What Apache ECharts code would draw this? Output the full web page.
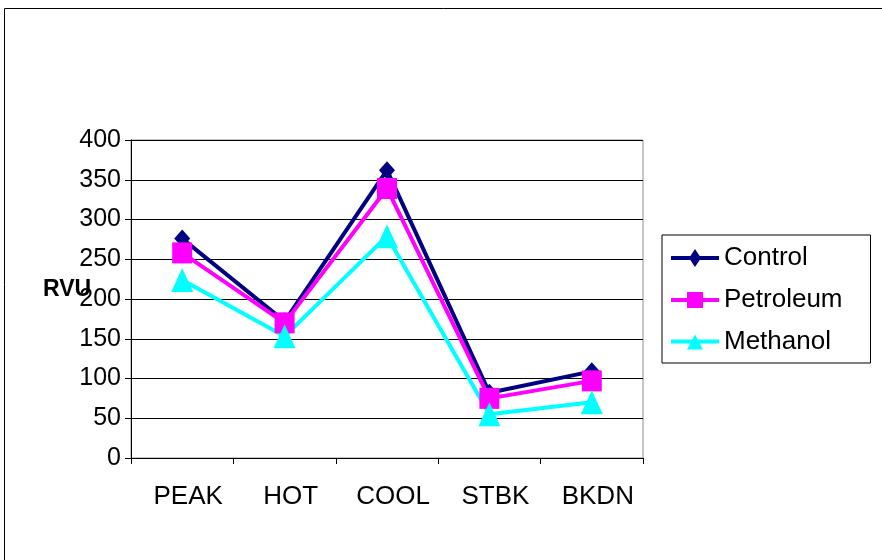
<!DOCTYPE html>
<html>
<head>
<meta charset="utf-8">
<style>
  html, body { margin: 0; padding: 0; background: #fff; }
  #chart { width: 882px; height: 560px; }
</style>
<script src="https://cdn.jsdelivr.net/npm/echarts@6/dist/echarts.min.js"></script>
</head>
<body>
<div id="chart"></div>
<script>
// RVU readings per test phase
const categories = ['PEAK', 'HOT', 'COOL', 'STBK', 'BKDN'];
const controlValues = [276, 172, 362, 82, 109];
const petroleumValues = [258, 170, 339, 75, 97];
const methanolValues = [224, 153, 279, 55, 70];
const yTicks = { min: 0, max: 400, step: 50 };

const FONT = 'Liberation Sans, Arial, sans-serif';

// Legend swatches: a thick line with the series marker in the middle
const LINE_BAR = 'M0,7 H48 V11 H0 Z ';
const legendIcons = {
  Control: 'path://' + LINE_BAR + 'M24,0 L30,9 L24,18 L18,9 Z',
  Petroleum: 'path://' + LINE_BAR + 'M16,1 H32 V17 H16 Z',
  Methanol: 'path://' + LINE_BAR + 'M24,2 L32,17 L16,17 Z'
};

const chart = echarts.init(document.getElementById('chart'), null, { renderer: 'canvas' });

function lineSeries(name, data, color, symbol, size) {
  return {
    name: name,
    type: 'line',
    data: data,
    symbol: symbol,
    symbolSize: size,
    showSymbol: true,
    lineStyle: { color: color, width: 4 },
    itemStyle: { color: color, borderWidth: 0 },
    emphasis: { disabled: true },
    animation: false
  };
}

chart.setOption({
  backgroundColor: '#ffffff',
  animation: false,
  textStyle: { fontFamily: FONT, color: '#000' },
  graphic: [
    {
      type: 'rect',
      shape: { x: 4.5, y: 8.5, width: 900, height: 600 },
      style: { fill: 'none', stroke: '#000', lineWidth: 1 },
      z: 0
    },
    {
      type: 'text',
      left: 43,
      top: 278,
      style: { text: 'RVU', font: 'bold 23px ' + FONT, fill: '#000' },
      z: 1
    }
  ],
  grid: {
    left: 131,
    right: 239,
    top: 140,
    bottom: 102,
    show: true,
    borderColor: '#8c8c8c',
    borderWidth: 1,
    backgroundColor: 'transparent'
  },
  legend: {
    orient: 'vertical',
    left: 662,
    top: 235,
    data: ['Control', 'Petroleum', 'Methanol'].map(n => ({ name: n, icon: legendIcons[n] })),
    itemWidth: 48,
    itemHeight: 18,
    itemGap: 16,
    padding: [10, 28, 8, 9],
    borderColor: '#000',
    borderWidth: 1,
    textStyle: { fontSize: 26, fontFamily: FONT, color: '#000' }
  },
  xAxis: {
    type: 'category',
    data: categories,
    boundaryGap: true,
    axisLine: { lineStyle: { color: '#000', width: 1 } },
    axisTick: { show: true, length: 6, lineStyle: { color: '#000' } },
    axisLabel: { fontSize: 26, color: '#000', margin: 26, padding: [0, 0, 0, 12], fontFamily: FONT },
    splitLine: { show: false }
  },
  yAxis: {
    type: 'value',
    min: yTicks.min,
    max: yTicks.max,
    interval: yTicks.step,
    axisLine: { show: true, lineStyle: { color: '#000', width: 1 } },
    axisTick: { show: true, length: 6, lineStyle: { color: '#000' } },
    axisLabel: { fontSize: 25, color: '#000', margin: 10, fontFamily: FONT },
    splitLine: { show: true, lineStyle: { color: '#000', width: 1 } }
  },
  series: [
    lineSeries('Control', controlValues, '#000080', 'diamond', [16, 18]),
    lineSeries('Petroleum', petroleumValues, '#ff00ff', 'rect', [20, 21]),
    lineSeries('Methanol', methanolValues, '#00ffff', 'triangle', [22, 24])
  ]
});
</script>
</body>
</html>
